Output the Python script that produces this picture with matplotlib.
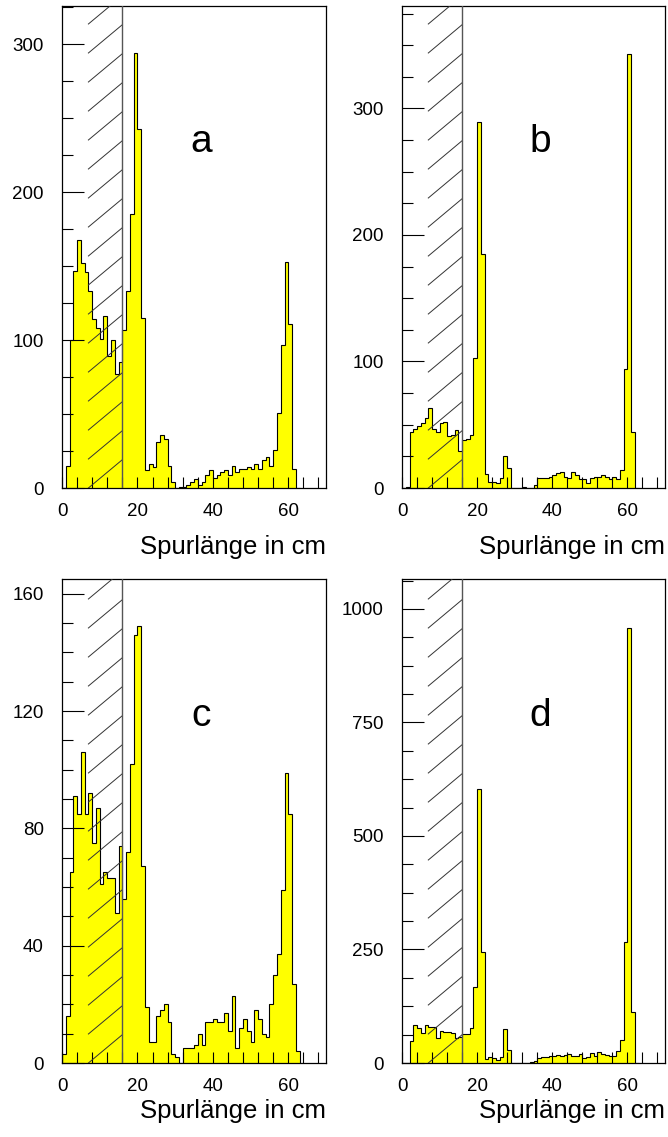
import numpy as np
import matplotlib.pyplot as plt
import matplotlib.transforms as mtransforms
from matplotlib.ticker import MultipleLocator

plt.rcParams['font.family'] = ['Liberation Sans', 'DejaVu Sans']

# track length histograms, 1 cm bins starting at 0 cm
counts_a = [0, 15, 100, 147, 168, 152, 146, 133, 114, 108, 101, 116, 89, 100, 77, 85,
            107, 133, 185, 294, 243, 115, 12, 16, 14, 31, 36, 33, 15, 4,
            0, 1, 1, 2, 4, 6, 2, 4, 9, 12, 7, 9, 11, 12, 9, 15, 11, 13, 13, 14,
            13, 16, 13, 19, 21, 15, 26, 51, 97, 153, 111, 13, 0]
counts_b = [0, 1, 44, 47, 49, 51, 55, 63, 47, 44, 51, 52, 41, 42, 46, 29,
            38, 39, 42, 103, 289, 185, 11, 5, 5, 4, 8, 25, 16, 0,
            0, 0, 1, 0, 0, 2, 8, 8, 8, 9, 10, 12, 13, 9, 8, 13, 10, 7, 7, 4,
            8, 9, 9, 10, 9, 7, 9, 7, 14, 94, 343, 44, 0]
counts_c = [3, 16, 65, 91, 85, 106, 85, 92, 75, 87, 61, 65, 63, 63, 51, 74,
            56, 72, 102, 146, 149, 67, 19, 7, 7, 16, 18, 20, 14, 3,
            2, 0, 5, 5, 5, 6, 10, 6, 14, 14, 15, 14, 14, 17, 11, 23, 5, 12, 15, 11,
            7, 18, 15, 10, 9, 20, 30, 37, 59, 99, 85, 27, 4]
counts_d = [0, 0, 49, 84, 77, 66, 84, 80, 80, 55, 71, 68, 68, 65, 54, 58,
            64, 64, 77, 167, 603, 244, 9, 14, 10, 7, 14, 75, 29, 0,
            0, 0, 0, 0, 2, 4, 12, 14, 14, 16, 16, 18, 16, 18, 20, 16, 16, 20, 11, 14,
            21, 16, 24, 20, 18, 16, 16, 27, 51, 266, 957, 112, 0]

labels = ['a', 'b', 'c', 'd']
y_max = [326, 381, 165, 1066]
y_major = [100, 100, 40, 250]
y_minor = [25, 25, 10, 62.5]

cut_lo = 7     # hatched region
cut_hi = 16    # track length cut

edges = np.arange(len(counts_a) + 1)

W, H = 668, 1137
fig = plt.figure(figsize=(W / 100, H / 100), dpi=100)

# axes boxes in pixels: left, top, right, bottom
boxes = [(62, 6, 326, 488), (402, 6, 665, 488),
         (62, 579, 326, 1063), (402, 579, 665, 1063)]
label_off = [66, 66, 55, 55]

for i, counts in enumerate([counts_a, counts_b, counts_c, counts_d]):
    l, t, r, b = boxes[i]
    ax = fig.add_axes([l / W, 1 - b / H, (r - l) / W, (b - t) / H])
    axh = b - t

    ax.stairs(counts, edges, fill=True, color='#ffff00', zorder=1)
    ax.stairs(counts, edges, color='black', lw=0.8, zorder=2)

    # hatched cut region
    trans = mtransforms.blended_transform_factory(ax.transData, ax.transAxes)
    rise = 28.3 / axh
    step = 29.0 / axh
    for k in range(-1, int(1 / step) + 2):
        y0 = k * step
        ax.plot([cut_lo, cut_hi], [y0, y0 + rise], transform=trans,
                color='#333333', lw=0.7, zorder=3)
    ax.axvline(cut_hi, color='#555555', lw=1.0, zorder=3)

    ax.set_xlim(0, 70)
    ax.set_ylim(0, y_max[i])
    ax.xaxis.set_major_locator(MultipleLocator(20))
    ax.xaxis.set_minor_locator(MultipleLocator(4))
    ax.yaxis.set_major_locator(MultipleLocator(y_major[i]))
    ax.yaxis.set_minor_locator(MultipleLocator(y_minor[i]))
    ax.tick_params(axis='x', which='both', direction='in', length=8, width=0.8,
                   labelsize=13.5, pad=11)
    ax.tick_params(axis='y', which='major', direction='in', length=16, width=0.8,
                   labelsize=13.5, pad=13)
    ax.tick_params(axis='y', which='minor', direction='in', length=8, width=0.8)
    for sp in ax.spines.values():
        sp.set_linewidth(0.9)

    ax.text(0.527, 0.697, labels[i], transform=ax.transAxes, ha='center',
            va='baseline', fontsize=28)
    ax.set_xlabel('Spurlänge in cm', fontsize=18.5, loc='right', va='baseline')
    ax.xaxis.set_label_coords(1.0, -label_off[i] / axh)

fig.savefig('out.png', dpi=100)
